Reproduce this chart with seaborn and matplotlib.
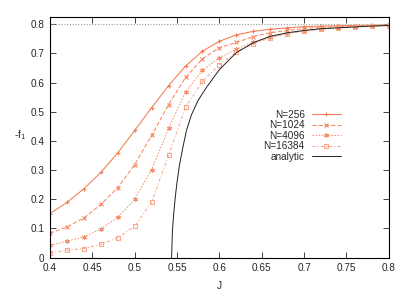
import numpy as np
import pandas as pd
import matplotlib
matplotlib.use("Agg")
import matplotlib.pyplot as plt
import seaborn as sns

# data
J = [0.40, 0.42, 0.44, 0.46, 0.48, 0.50, 0.52, 0.54, 0.56, 0.58, 0.60,
     0.62, 0.64, 0.66, 0.68, 0.70, 0.72, 0.74, 0.76, 0.78, 0.80]
f_256 = [0.151, 0.189, 0.236, 0.292, 0.359, 0.436, 0.514, 0.590, 0.657, 0.708, 0.742,
         0.764, 0.776, 0.783, 0.788, 0.792, 0.794, 0.795, 0.796, 0.797, 0.797]
f_1024 = [0.083, 0.105, 0.136, 0.182, 0.240, 0.319, 0.419, 0.525, 0.618, 0.682, 0.720,
          0.738, 0.758, 0.771, 0.779, 0.786, 0.789, 0.792, 0.794, 0.796, 0.797]
f_4096 = [0.042, 0.056, 0.071, 0.098, 0.138, 0.200, 0.302, 0.443, 0.569, 0.642, 0.686,
          0.715, 0.739, 0.756, 0.770, 0.778, 0.784, 0.789, 0.792, 0.795, 0.797]
f_16384 = [0.015, 0.025, 0.031, 0.045, 0.068, 0.108, 0.190, 0.351, 0.516, 0.604, 0.661,
           0.706, 0.733, 0.754, 0.767, 0.777, 0.783, 0.788, 0.791, 0.794, 0.796]

J_analytic = [0.5435, 0.5445, 0.546, 0.548, 0.550, 0.553, 0.557, 0.561, 0.567, 0.575,
              0.585, 0.600, 0.620, 0.640, 0.660, 0.680, 0.700, 0.720, 0.740, 0.760,
              0.780, 0.800]
f_analytic = [0.0, 0.09, 0.15, 0.21, 0.26, 0.32, 0.38, 0.435, 0.49, 0.54,
              0.585, 0.645, 0.703, 0.737, 0.759, 0.771, 0.779, 0.785, 0.788, 0.791,
              0.794, 0.796]
f_limit = 0.8

labels = ["N=256", "N=1024", "N=4096", "N=16384"]
series = [f_256, f_1024, f_4096, f_16384]
colors = ["#f47a4f", "#f58760", "#f6936f", "#f8a78a"]
markers = ["+", "x", (6, 2, 0), "s"]
styles = ["-", (0, (4, 2)), (0, (1.5, 1.5)), (0, (3, 2, 1, 2))]

sns.set_style("ticks")
plt.rcParams["font.family"] = ["Liberation Sans", "DejaVu Sans"]
plt.rcParams["font.size"] = 7.2

fig, ax = plt.subplots(figsize=(4.15, 2.94), dpi=100)
fig.subplots_adjust(left=0.1205, right=0.937, top=0.941, bottom=0.124)

ax.axhline(f_limit, color="#999999", lw=0.8, ls=(0, (1, 1.5)), zorder=1)

for lab, vals, c, m, ls in zip(labels, series, colors, markers, styles):
    df = pd.DataFrame({"J": J, "f": vals})
    sns.lineplot(data=df, x="J", y="f", ax=ax, color=c, lw=0.75, linestyle=ls,
                 marker=m, markersize=3.4,
                 markerfacecolor="none" if m == "s" else c,
                 markeredgecolor=c, markeredgewidth=0.8, label=lab)

df_a = pd.DataFrame({"J": J_analytic, "f": f_analytic})
sns.lineplot(data=df_a, x="J", y="f", ax=ax, color="#222222", lw=0.7,
             label="analytic", sort=False)

ax.set_xlim(0.4, 0.8)
ax.set_ylim(0, 0.824)
ax.set_xticks(np.arange(0.4, 0.801, 0.05))
ax.set_xticklabels(["0.4", "0.45", "0.5", "0.55", "0.6", "0.65", "0.7", "0.75", "0.8"])
ax.set_yticks(np.arange(0, 0.81, 0.1))
ax.set_yticklabels(["0", "0.1", "0.2", "0.3", "0.4", "0.5", "0.6", "0.7", "0.8"])
ax.tick_params(direction="in", top=True, right=True, length=4, width=0.6,
               labelsize=7.2, pad=4)
for sp in ax.spines.values():
    sp.set_visible(True)
    sp.set_linewidth(0.8)
    sp.set_color("black")

ax.set_xlabel("J", fontsize=7.2, labelpad=6)
ax.set_ylabel("-f$_1$", fontsize=7.2, rotation=0, labelpad=10)
ax.yaxis.set_label_coords(-0.09, 0.48)

# markerfirst=False packs the entries right-aligned, like the reference
ax.legend(loc="upper right", bbox_to_anchor=(0.858, 0.615), frameon=False,
          fontsize=7.2, markerfirst=False, handlelength=2.9,
          labelspacing=0.05, handletextpad=0.7, borderpad=0.0,
          borderaxespad=0.0)

fig.savefig("out.png", dpi=100)
